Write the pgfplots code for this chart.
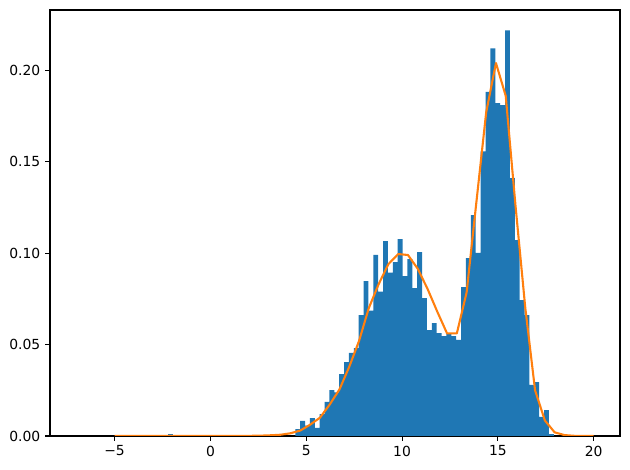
\documentclass[border=0pt]{standalone}
\usepackage{pgfplots}
\pgfplotsset{compat=1.18}
\usepackage{fontspec}
\setmainfont{DejaVu Sans}
\definecolor{mplblue}{HTML}{1F77B4}
\definecolor{mplorange}{HTML}{FF7F0E}
\begin{document}
\begin{tikzpicture}
\begin{axis}[
  scale only axis, width=410.4pt, height=306.72pt,
  xmin=-8.37, xmax=21.37, ymin=0, ymax=0.233,
  axis line style={line width=0.8pt},
  tick align=outside, tick pos=left,
  major tick length=3.5pt,
  tick style={line width=0.8pt, black},
  xtick={-5,0,5,10,15,20}, xticklabels={−5,0,5,10,15,20},
  ytick={0,0.05,0.1,0.15,0.2}, yticklabels={0.00,0.05,0.10,0.15,0.20},
  tick label style={font=\fontsize{10}{12}\selectfont},
  scaled y ticks=false,
]
\addplot[ybar interval, fill=mplblue, draw=none] coordinates {
(-2.19,0.0012) (-1.935,0)
};
\addplot[ybar interval, fill=mplblue, draw=none] coordinates {
(4.427,0.0038) (4.6815,0.0082) (4.936,0.0056) (5.1905,0.0098) (5.445,0.0045)
(5.6995,0.0120) (5.954,0.0186) (6.2085,0.0251) (6.463,0.0239) (6.7175,0.0339)
(6.972,0.0404) (7.2265,0.0454) (7.481,0.0480) (7.7355,0.0661) (7.990,0.0847)
(8.2445,0.0685) (8.499,0.0991) (8.7535,0.0789) (9.008,0.1066) (9.2625,0.0893)
(9.517,0.0951) (9.7715,0.1077) (10.026,0.0874) (10.2805,0.0967) (10.535,0.0809)
(10.7895,0.1005) (11.044,0.0754) (11.2985,0.0579) (11.553,0.0617) (11.8075,0.0563)
(12.062,0.0546) (12.3165,0.0557) (12.571,0.0546) (12.8255,0.0525) (13.080,0.0814)
(13.3345,0.0973) (13.589,0.1208) (13.8435,0.1002) (14.098,0.1557) (14.3525,0.1882)
(14.607,0.2120) (14.8615,0.1821) (15.116,0.1809) (15.3705,0.2219) (15.625,0.1410)
(15.8795,0.1071) (16.134,0.0743) (16.3885,0.0661) (16.643,0.0279) (16.8975,0.0295)
(17.152,0.0104) (17.4065,0.0142) (17.661,0.0010) (17.9155,0)
};
\addplot[mplorange, line width=1.5pt, line join=round] coordinates {
(-5,0) (-4.490,0) (-3.980,0) (-3.469,0) (-2.959,0) (-2.449,0.0001) (-1.939,0.0001)
(-1.429,0) (-0.918,0) (-0.408,0) (0.102,0) (0.612,0) (1.122,0) (1.633,0)
(2.143,0.0001) (2.653,0.0002) (3.163,0.0004) (3.673,0.0007) (4.184,0.0015)
(4.694,0.0030) (5.204,0.0062) (5.714,0.0100) (6.224,0.0172) (6.735,0.0255)
(7.245,0.0379) (7.755,0.0520) (8.265,0.0700) (8.776,0.0830) (9.286,0.0940)
(9.796,0.0995) (10.306,0.0990) (10.816,0.0915) (11.327,0.0805) (11.837,0.0680)
(12.347,0.0561) (12.857,0.0561) (13.367,0.0785) (13.878,0.1280) (14.388,0.1770)
(14.898,0.2040) (15.408,0.1860) (15.918,0.1260) (16.429,0.0700) (16.939,0.0250)
(17.449,0.0085) (17.959,0.0020) (18.469,0.0005) (18.980,0.0001) (19.490,0) (20,0)
};
\end{axis}
\path (current axis.south west) ++(-36pt,-24.48pt);
\path (current axis.north east) ++(7.2pt,7.2pt);
\end{tikzpicture}
\end{document}
